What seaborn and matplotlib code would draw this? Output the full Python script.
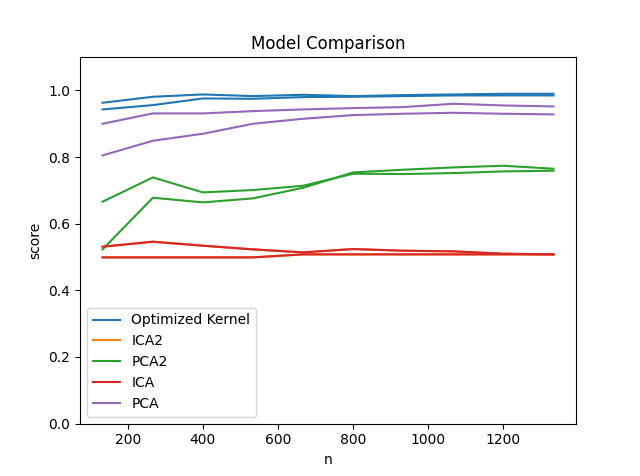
import matplotlib
matplotlib.use("Agg")
import matplotlib.pyplot as plt
import seaborn as sns
import pandas as pd

n = [133, 267, 400, 533, 667, 800, 933, 1067, 1200, 1333]

kernel_a = [0.963, 0.981, 0.988, 0.983, 0.987, 0.983, 0.986, 0.988, 0.990, 0.990]
kernel_b = [0.943, 0.956, 0.976, 0.975, 0.980, 0.981, 0.983, 0.985, 0.985, 0.985]
ica_a = [0.531, 0.546, 0.534, 0.523, 0.514, 0.524, 0.519, 0.517, 0.510, 0.508]
ica_b = [0.499, 0.499, 0.499, 0.499, 0.508, 0.508, 0.508, 0.508, 0.508, 0.508]
pca2_a = [0.666, 0.739, 0.694, 0.701, 0.714, 0.750, 0.749, 0.752, 0.757, 0.759]
pca2_b = [0.523, 0.678, 0.664, 0.676, 0.708, 0.754, 0.762, 0.769, 0.774, 0.765]
pca_a = [0.900, 0.931, 0.931, 0.938, 0.943, 0.947, 0.950, 0.960, 0.955, 0.952]
pca_b = [0.805, 0.849, 0.870, 0.900, 0.915, 0.926, 0.930, 0.933, 0.930, 0.928]

models = ["Optimized Kernel", "ICA2", "PCA2", "ICA", "PCA"]
series = {
    "Optimized Kernel": [kernel_a, kernel_b],
    "ICA2": [ica_a, ica_b],
    "PCA2": [pca2_a, pca2_b],
    "ICA": [ica_a, ica_b],
    "PCA": [pca_a, pca_b],
}
colors = ["C0", "C1", "C2", "C3", "C4"]

fig, ax = plt.subplots(figsize=(6.4, 4.76), dpi=100)
for model, color in zip(models, colors):
    for i, vals in enumerate(series[model]):
        df = pd.DataFrame({"n": n, "score": vals})
        sns.lineplot(data=df, x="n", y="score", color=color, ax=ax,
                     label=model if i == 0 else None, legend=False)

ax.set_ylim(0, 1.1)
ax.set_title("Model Comparison")
ax.set_xlabel("n")
ax.set_ylabel("score")
ax.legend(loc="lower left")
fig.savefig("out.png", dpi=100)
